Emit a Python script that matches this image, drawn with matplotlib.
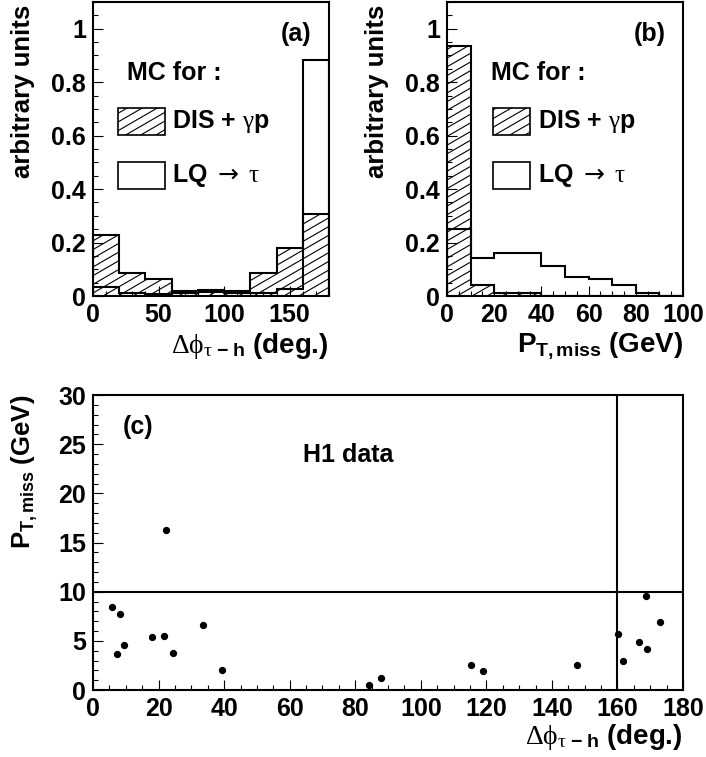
import numpy as np
import matplotlib
matplotlib.use('Agg')
import matplotlib.pyplot as plt
from matplotlib.collections import LineCollection
from matplotlib.patches import Rectangle
from matplotlib.ticker import MultipleLocator

plt.rcParams['font.family'] = ['Liberation Sans', 'DejaVu Sans']
plt.rcParams['font.weight'] = 'bold'
plt.rcParams['axes.labelweight'] = 'bold'
plt.rcParams['mathtext.fontset'] = 'custom'
plt.rcParams['mathtext.rm'] = 'Liberation Serif:normal'
plt.rcParams['mathtext.it'] = 'Liberation Serif:italic:normal'
plt.rcParams['mathtext.bf'] = 'Liberation Sans:bold'
plt.rcParams['mathtext.sf'] = 'DejaVu Sans:normal'
plt.rcParams['mathtext.default'] = 'rm'

# (a) delta phi tau-h, 20 deg bins
dphi_edges = [0, 20, 40, 60, 80, 100, 120, 140, 160, 180]
dphi_bkg = [0.23, 0.087, 0.062, 0.019, 0.022, 0.02, 0.085, 0.178, 0.305]
dphi_lq = [0.035, 0.012, 0.008, 0.01, 0.015, 0.01, 0.01, 0.027, 0.884]

# (b) PT,miss, 10 GeV bins
pt_edges = [0, 10, 20, 30, 40, 50, 60, 70, 80, 90, 100]
pt_bkg = [0.936, 0.041, 0.01, 0.01, 0, 0, 0, 0, 0, 0]
pt_lq = [0.249, 0.141, 0.16, 0.16, 0.112, 0.07, 0.064, 0.041, 0.012, 0]

# (c) H1 data events
data_dphi = [5.8, 8.3, 7.4, 9.4, 17.9, 21.6, 22.4, 24.5, 33.5, 39.5, 84.3, 88.0,
             115.2, 118.9, 147.8, 160.1, 161.7, 166.6, 168.6, 169.1, 173.1]
data_pt = [8.47, 7.72, 3.71, 4.56, 5.44, 5.54, 16.29, 3.81, 6.6, 2.07, 0.51, 1.22,
           2.59, 1.90, 2.59, 5.71, 2.96, 4.90, 9.52, 4.22, 6.94]
pt_cut = 10
dphi_cut = 160

W, H = 706, 757
FS = 18      # tick labels and texts
FX = 20      # x axis titles
FY = 18.5    # y axis titles
fig = plt.figure(figsize=(W / 100, H / 100), dpi=100)


def box(l, t, r, b):
    return [l / W, 1 - b / H, (r - l) / W, (b - t) / H]


def hatch(ax, patch, spacing=8.7, angle=30):
    # ROOT-like hatching: thin lines at 30 deg, clipped to the patch
    bb = ax.get_position()
    w = bb.width * W
    h = bb.height * H
    slope = np.tan(np.radians(angle)) * w / h
    step = spacing / h
    segs = [[(0, b0), (1, b0 + slope)] for b0 in np.arange(-slope, 1, step)]
    lc = LineCollection(segs, colors='k', linewidths=0.8, transform=ax.transAxes)
    ax.add_collection(lc, autolim=False)
    lc.set_clip_path(patch)


def style(ax, xmaj, xmin, ymaj, ymin):
    for s in ax.spines.values():
        s.set_linewidth(1.5)
    ax.xaxis.set_major_locator(MultipleLocator(xmaj))
    ax.xaxis.set_minor_locator(MultipleLocator(xmin))
    ax.yaxis.set_major_locator(MultipleLocator(ymaj))
    ax.yaxis.set_minor_locator(MultipleLocator(ymin))
    ax.tick_params(which='both', direction='in', top=False, right=False,
                   labelsize=FS, width=0.8)
    ax.tick_params(which='major', length=7, pad=5)
    ax.tick_params(which='minor', length=3.5)


def mc_panel(ax, edges, bkg, lq, letter, lx0, lx1, tx, mcx):
    ax.set_xlim(edges[0], edges[-1])
    ax.set_ylim(0, 1.1)
    ax.stairs(lq, edges, fill=False, edgecolor='k', linewidth=1.5)
    sp = ax.stairs(bkg, edges, fill=True, facecolor='none', edgecolor='k',
                   linewidth=1.5)
    hatch(ax, sp)
    ax.text(0.86, 0.891, letter, transform=ax.transAxes, ha='center',
            va='center', fontsize=FS)
    ax.text(mcx, 0.76, 'MC for :', transform=ax.transAxes, ha='left',
            va='center', fontsize=FS)
    r1 = Rectangle((lx0, 0.548), lx1 - lx0, 0.091, transform=ax.transAxes,
                   facecolor='none', edgecolor='k', linewidth=1.2)
    r2 = Rectangle((lx0, 0.364), lx1 - lx0, 0.091, transform=ax.transAxes,
                   facecolor='none', edgecolor='k', linewidth=1.2)
    ax.add_patch(r1)
    ax.add_patch(r2)
    hatch(ax, r1)
    ax.text(tx, 0.594, r'DIS + $\gamma$p', transform=ax.transAxes,
            ha='left', va='center', fontsize=FS)
    ax.text(tx, 0.41, r'LQ $\mathsf{\rightarrow}$ $\tau$', transform=ax.transAxes,
            ha='left', va='center', fontsize=FS)
    ax.set_ylabel('arbitrary units', fontsize=FY, loc='top')
    ax.yaxis.set_label_coords(-0.245, 0.99)
    ax.set_yticks([0, 0.2, 0.4, 0.6, 0.8, 1.0])
    ax.set_yticklabels(['0', '0.2', '0.4', '0.6', '0.8', '1'])


dphi_label = r'$\Delta\phi_{\tau\ \mathbf{-\ h}}$ (deg.)'
pt_label = r'$\mathbf{P_{T,miss}}$ (GeV)'

ax_a = fig.add_axes(box(93, 2, 329, 296))
style(ax_a, 50, 10, 0.2, 0.05)
mc_panel(ax_a, dphi_edges, dphi_bkg, dphi_lq, '(a)', 0.106, 0.305, 0.335, 0.144)
ax_a.set_xlabel(dphi_label, fontsize=FX, loc='right')
ax_a.xaxis.set_label_coords(1.0, -0.12)

ax_b = fig.add_axes(box(447, 2, 683, 296))
style(ax_b, 20, 5, 0.2, 0.05)
mc_panel(ax_b, pt_edges, pt_bkg, pt_lq, '(b)', 0.195, 0.352, 0.386, 0.186)
ax_b.set_xlabel(pt_label, fontsize=FX, loc='right')
ax_b.xaxis.set_label_coords(1.0, -0.115)

ax_c = fig.add_axes(box(93, 395, 683, 690))
style(ax_c, 20, 5, 5, 1)
ax_c.set_xlim(0, 180)
ax_c.set_ylim(0, 30)
ax_c.scatter(data_dphi, data_pt, s=18, color='k', zorder=3)
ax_c.axhline(pt_cut, color='k', linewidth=1.5)
ax_c.axvline(dphi_cut, color='k', linewidth=1.5)
ax_c.text(0.076, 0.891, '(c)', transform=ax_c.transAxes, ha='center',
          va='center', fontsize=FS)
ax_c.text(0.432, 0.797, 'H1 data', transform=ax_c.transAxes, ha='center',
          va='center', fontsize=FS)
ax_c.set_ylabel(pt_label, fontsize=FY, loc='top')
ax_c.yaxis.set_label_coords(-0.09, 1.0)
ax_c.set_xlabel(dphi_label, fontsize=FX, loc='right')
ax_c.xaxis.set_label_coords(1.0, -0.11)

fig.savefig('out.png', dpi=100)
